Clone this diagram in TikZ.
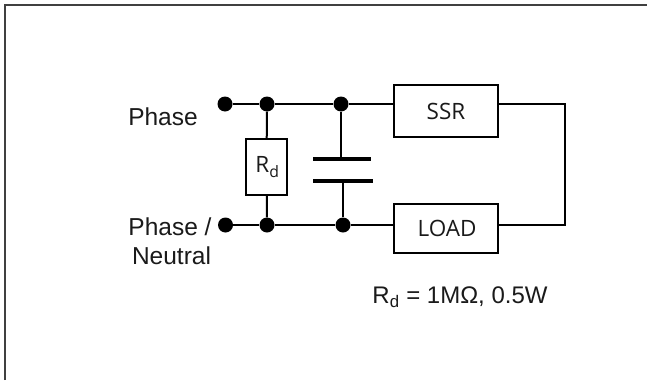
\documentclass[tikz,border=0pt]{standalone}
\usepackage{fontspec}
\setmainfont{Liberation Sans}
\newfontfamily\boxfont{Open Sans}
\definecolor{ink}{HTML}{1A1A1A}
\tikzset{
  wire/.style={draw=black,line width=2pt},
  plate/.style={draw=black,line width=4pt},
  term/.style={circle,fill=black,draw=none,inner sep=0pt,minimum size=15pt},
  part/.style={draw=black,line width=2pt,fill=white,inner sep=0pt,text=ink,font=\boxfont\fontsize{22.5}{26}\selectfont},
  lab/.style={inner sep=0pt,text=ink,font=\fontsize{24.5}{29}\selectfont,align=center}
}
\begin{document}
\begin{tikzpicture}[x=1pt,y=-1pt]
\useasboundingbox (0,0) rectangle (647,380);
\coordinate (ftl) at (5,5);
\coordinate (ftr) at (647,5);
\coordinate (fbl) at (5,380);
\draw[draw=black!75,line width=1.5pt] (fbl) -- (ftl) -- (ftr);
% nodes
\node[term] (t1) at (225,104) {};
\node[term] (j1) at (267,104) {};
\node[term] (j2) at (341,104) {};
\node[term] (t2) at (225.5,225) {};
\node[term] (j3) at (267,225) {};
\node[term] (j4) at (343,225) {};
\node[part,minimum width=41pt,minimum height=56pt] (rd) at (266.5,167) {\hspace{2pt}R\textsubscript{d}};
\node[part,minimum width=104pt,minimum height=52pt] (ssr) at (446,111) {SSR};
\node[part,minimum width=104pt,minimum height=49pt] (load) at (446,228.5) {\hspace{2pt}LOAD};
\coordinate (p1l) at (313,159);
\coordinate (p1r) at (371,159);
\coordinate (p2l) at (313,181);
\coordinate (p2r) at (373,181);
\coordinate (r1) at (565,104);
\coordinate (r2) at (565,225);
\coordinate (ssrw) at (ssr.west |- j2);
\coordinate (ssre) at (ssr.east |- r1);
\coordinate (loadw) at (load.west |- j4);
\coordinate (loade) at (load.east |- r2);
% wires
\draw[wire] (t1) -- (j1) -- (j2) -- (ssrw);
\draw[wire] (t2) -- (j3) -- (j4) -- (loadw);
\draw[wire] (j1) -- (rd);
\draw[wire] (rd) -- (j3);
\draw[wire] (j2) -- (j2 |- p1l);
\draw[wire] (j4) -- (j4 |- p2l);
\draw[plate] (p1l) -- (p1r);
\draw[plate] (p2l) -- (p2r);
\draw[wire,line join=miter] (ssre) -- (r1) -- (r2) -- (loade);
% labels
\node[lab] (phase) at (163,117) {Phase};
\node[lab] (pn) at (170,227) {Phase /};
\node[lab] (neutral) at (171.5,256) {Neutral};
\node[lab,font=\fontsize{24}{29}\selectfont] (note) at (460,297) {R\textsubscript{d} = 1MΩ, 0.5W};
\end{tikzpicture}
\end{document}
